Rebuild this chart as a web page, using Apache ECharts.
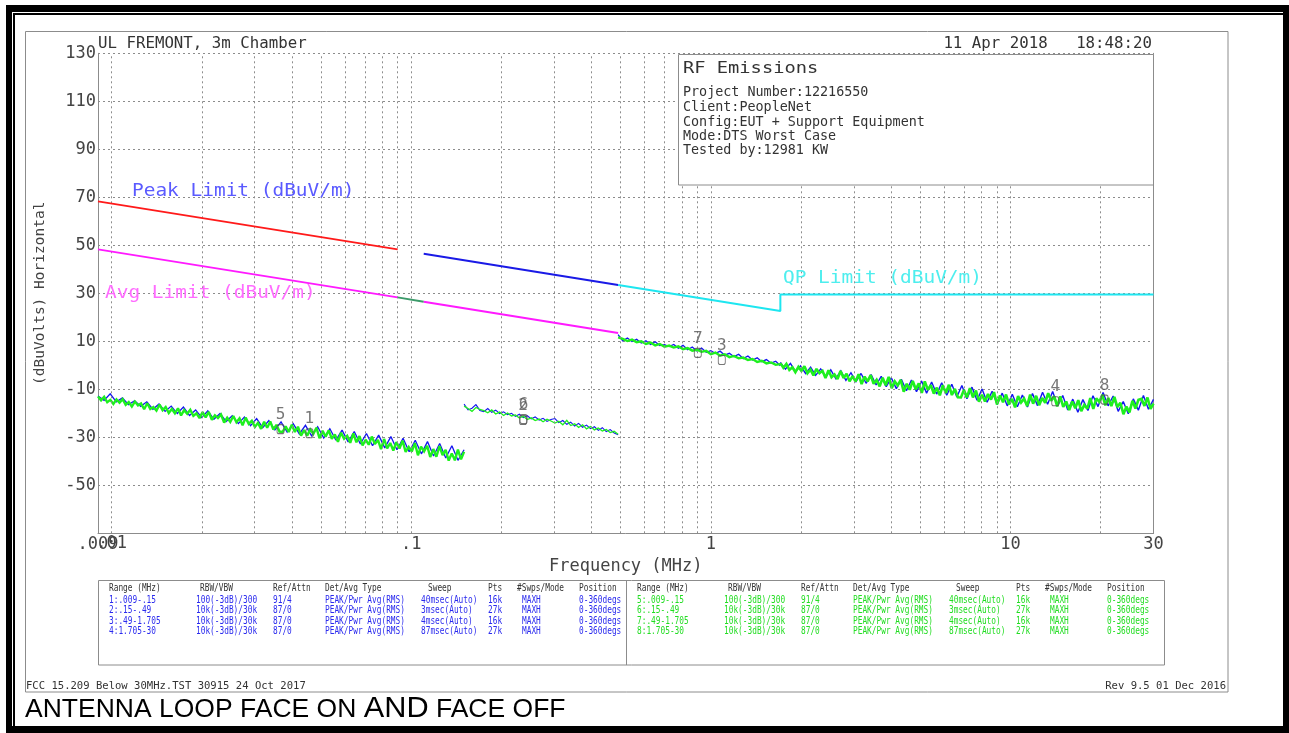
<!DOCTYPE html>
<html><head><meta charset="utf-8">
<script src="https://cdn.jsdelivr.net/npm/echarts@6/dist/echarts.min.js"></script>
<style>html,body{margin:0;padding:0;background:#fff}#c{width:1289px;height:733px}</style>
</head><body><div id="c"></div>
<script>
// ---------------- DATA ----------------
const xTickValues = [0.009, 0.01, 0.1, 1, 10, 30];
const xTickLabels = ['.009', '.01', '.1', '1', '10', '30'];
const gridFreqs = [0.01,0.02,0.03,0.04,0.05,0.06,0.07,0.08,0.09,0.1,0.2,0.3,0.4,0.5,0.6,0.7,0.8,0.9,1,2,3,4,5,6,7,8,9,10,20];

// sweep ranges (MHz): start, stop
const sweep1 = [0.009, 0.15];
const sweep2 = [0.15, 0.49];
const sweep3 = [0.49, 1.705];
const sweep4 = [1.705, 30];

// blue trace (dBuV/m)
const blue1 = [-12.8,-14.6,-11.9,-15.2,-13.6,-16.4,-14.8,-17.1,-15.2,-18.3,-16.1,-19.2,-17.0,-20.1,-17.4,-20.9,-18.6,-21.8,-19.0,-22.5,-20.1,-23.4,-21.0,-24.3,-21.6,-25.2,-22.2,-26.0,-23.0,-26.9,-23.6,-27.8,-24.3,-28.6,-25.0,-29.4,-25.6,-30.3,-26.4,-31.2,-27.0,-31.9,-27.6,-32.8,-28.4,-33.5,-29.1,-34.4,-29.7,-35.2,-30.4,-36.0,-31.2,-36.9,-31.8,-37.8,-32.6,-38.6,-33.5,-39.6,-35.2];
const blue2 = [-16.2,-18.6,-17.9,-16.4,-18.8,-19.3,-18.0,-19.6,-18.7,-20.1,-19.4,-20.6,-20.0,-21.3,-20.4,-21.8,-21.0,-22.3,-21.5,-22.8,-22.1,-23.4,-22.6,-22.2,-23.9,-23.0,-24.6,-23.7,-25.3,-24.2,-25.8,-24.9,-26.4,-25.6,-27.1,-26.0,-27.6,-26.8,-28.2,-28.9];
const blue3 = [12.8,10.2,11.4,9.9,10.8,9.3,10.2,8.7,9.8,8.2,8.6,7.8,8.7,7.1,8.3,6.5,7.6,6.0,7.2,5.4,6.1,4.9,5.9,4.2,5.0,3.6,4.6,2.8,3.9,2.2,3.1,1.5,2.4,0.9,1.7,-0.2];
const blue4 = [1.2,-1.6,0.8,-2.6,-0.2,-3.4,-0.8,-4.2,-1.5,-4.9,-1.9,-5.6,-2.3,-6.3,-3.1,-6.8,-3.4,-7.5,-3.9,-8.2,-4.6,-8.9,-5.2,-9.7,-5.8,-10.6,-6.1,-11.0,-6.5,-11.6,-7.0,-12.0,-7.3,-12.5,-7.9,-13.2,-8.4,-13.9,-9.1,-14.6,-9.9,-15.4,-10.8,-16.3,-11.6,-16.9,-12.1,-17.3,-12.4,-17.4,-11.8,-16.8,-11.2,-16.2,-10.9,-16.9,-12.6,-18.6,-14.1,-19.6,-14.3,-18.8,-12.7,-17.2,-11.3,-16.9,-12.8,-19.2,-15.1,-20.2,-14.0,-18.7,-12.6,-18.3,-14.2];

// green trace (dBuV/m)
const green1 = [-13.0,-14.6,-13.1,-15.4,-14.4,-16.1,-14.2,-15.6,-14.1,-16.5,-15.3,-17.2,-15.1,-16.7,-15.9,-18.3,-15.8,-18.2,-17.4,-18.9,-16.4,-18.7,-17.4,-19.9,-18.2,-20.0,-17.9,-20.9,-18.7,-20.2,
  -18.5,-21.1,-20.0,-22.0,-19.5,-21.7,-19.4,-22.7,-20.8,-22.0,-20.5,-23.9,-21.8,-23.6,-21.1,-23.7,-22.1,-25.0,-21.8,-24.4,-23.1,-25.7,-24.0,-26.5,-23.5,-26.0,-23.4,-26.8,-24.8,-27.6,
  -27.8,-25.4,-27.8,-24.8,-27.8,-25.6,-29.3,-27.0,-29.3,-26.7,-28.6,-26.0,-30.4,-27.3,-29.8,-27.1,-30.6,-28.8,-31.9,-28.1,-30.6,-29.4,-32.3,-28.4,-32.1,-29.5,-33.4,-31.0,-33.1,-29.7,
  -32.8,-31.1,-34.9,-30.7,-34.6,-32.4,-35.5,-32.0,-34.7,-31.4,-36.1,-34.0,-36.0,-32.4,-37.5,-33.9,-35.9,-33.5,-38.2,-34.9,-38.1,-33.7,-37.4,-35.2,-39.7,-36.7,-39.6,-35.1,-39.2,-36.0];
const green2 = [-17.0,-18.0,-19.2,-17.6,-18.4,-18.9,-19.8,-18.6,-20.3,-19.5,-20.9,-19.9,-21.1,-20.7,-22.0,-21.2,-22.6,-21.9,-23.0,-22.4,-23.5,-22.5,-23.2,-24.1,-23.3,-24.8,-22.9,-25.1,-24.4,-25.9,-24.8,-26.5,-25.5,-26.9,-26.1,-27.4,-26.7,-28.0,-27.5,-28.7];
const green3 = [11.6,11.0,10.1,10.7,9.6,10.0,8.9,9.5,8.3,8.9,7.7,8.2,7.4,7.9,6.7,7.2,6.1,6.5,5.6,6.0,4.6,5.3,4.0,4.6,3.4,3.9,2.9,3.2,2.2,2.6,1.4,1.9,0.8,1.2,0.2,0.5];
const green4 = [0.9,-1.0,0.6,-1.9,-0.8,-2.9,-0.7,-2.4,-0.4,-3.3,-1.8,-4.2,-1.5,-3.3,-2.3,-5.3,-2.1,-5.0,-3.8,-5.7,-2.4,-5.3,-3.5,-6.7,-4.5,-6.8,-3.7,-7.8,-4.7,-6.7,
  -4.1,-7.7,-6.0,-8.8,-5.2,-8.3,-4.8,-9.5,-6.7,-8.4,-6.1,-11.0,-7.7,-10.2,-6.5,-10.0,-7.5,-11.5,-6.7,-10.2,-8.3,-11.8,-9.3,-12.5,-8.3,-11.6,-8.1,-12.4,-9.8,-13.3,
  -13.4,-10.3,-13.4,-9.5,-13.4,-10.5,-15.2,-12.3,-15.1,-12.0,-14.3,-11.2,-16.3,-12.6,-15.4,-12.2,-16.3,-14.0,-17.5,-12.8,-15.5,-13.9,-17.0,-12.2,-16.0,-12.7,-16.6,-13.6,-15.6,-11.6,
  -14.8,-12.9,-17.1,-12.9,-17.3,-15.1,-18.7,-15.1,-17.9,-14.5,-19.1,-16.5,-18.1,-13.7,-18.2,-13.8,-15.2,-12.3,-16.7,-13.6,-17.0,-13.2,-17.4,-15.6,-20.4,-17.2,-19.6,-14.8,-18.0,-14.4,
  -14.0,-16.9,-13.4,-18.2,-16.0];

// limit lines
const peakAFreq = [0.009, 0.09];  const peakALevel = [68.3, 48.3];
const peakBFreq = [0.11, 0.49];   const peakBLevel = [46.5, 33.5];
const qpFreq = [0.49, 1.705, 1.705, 30]; const qpLevel = [33.5, 22.6, 29.5, 29.5];
const avgAFreq = [0.009, 0.09];   const avgALevel = [48.3, 28.3];
const avgGapFreq = [0.09, 0.11];  const avgGapLevel = [28.3, 26.5];
const avgBFreq = [0.11, 0.49];    const avgBLevel = [26.5, 13.5];

// markers
const markerNames = ['1','2','3','4','5','6','7','8'];
const markerFreq = [0.0457, 0.236, 1.087, 14.1, 0.0366, 0.237, 0.904, 20.6];
const markerLevel = [-28.3, -22.8, 2.2, -15.0, -26.6, -22.4, 5.2, -14.3];

// texts
const titleLeft = 'UL FREMONT, 3m Chamber';
const titleRight = '11 Apr 2018   18:48:20';
const infoTitle = 'RF Emissions';
const infoLines = ['Project Number:12216550','Client:PeopleNet','Config:EUT + Support Equipment','Mode:DTS Worst Case','Tested by:12981 KW'];
const limitLabels = ['Peak Limit (dBuV/m)', 'Avg Limit (dBuV/m)', 'QP Limit (dBuV/m)'];
const tableHeaders = ['Range (MHz)','RBW/VBW','Ref/Attn','Det/Avg Type','Sweep','Pts','#Swps/Mode','Position'];
const tableRowsA = [
  ['1:.009-.15','100(-3dB)/300','91/4','PEAK/Pwr Avg(RMS)','40msec(Auto)','16k','MAXH','0-360degs'],
  ['2:.15-.49','10k(-3dB)/30k','87/0','PEAK/Pwr Avg(RMS)','3msec(Auto)','27k','MAXH','0-360degs'],
  ['3:.49-1.705','10k(-3dB)/30k','87/0','PEAK/Pwr Avg(RMS)','4msec(Auto)','16k','MAXH','0-360degs'],
  ['4:1.705-30','10k(-3dB)/30k','87/0','PEAK/Pwr Avg(RMS)','87msec(Auto)','27k','MAXH','0-360degs']];
const tableRowsB = [
  ['5:.009-.15','100(-3dB)/300','91/4','PEAK/Pwr Avg(RMS)','40msec(Auto)','16k','MAXH','0-360degs'],
  ['6:.15-.49','10k(-3dB)/30k','87/0','PEAK/Pwr Avg(RMS)','3msec(Auto)','27k','MAXH','0-360degs'],
  ['7:.49-1.705','10k(-3dB)/30k','87/0','PEAK/Pwr Avg(RMS)','4msec(Auto)','16k','MAXH','0-360degs'],
  ['8:1.705-30','10k(-3dB)/30k','87/0','PEAK/Pwr Avg(RMS)','87msec(Auto)','27k','MAXH','0-360degs']];
const footerLeft = 'FCC 15.209 Below 30MHz.TST 30915 24 Oct 2017';
const footerRight = 'Rev 9.5 01 Dec 2016';
const captionParts = ['ANTENNA LOOP FACE ON ', 'AND', ' FACE OFF'];

// ---------------- STYLE ----------------
const MONO = "'DejaVu Sans Mono', monospace";
const SANS = "'Liberation Sans', Arial, sans-serif";
const GRID = '#8c8c8c';
const BLUE = '#1414f0', GREEN = '#1ef01e';

function sweepData(range, vals) {
  const n = vals.length;
  return vals.map((v, i) => [range[0] * Math.pow(range[1] / range[0], i / (n - 1)), v]);
}
function pairs(f, v) { return f.map((x, i) => [x, v[i]]); }
function trace(range, vals, color, width, z) {
  return { type: 'line', data: sweepData(range, vals), symbol: 'none', z: z, silent: true,
    lineStyle: { color: color, width: width, join: 'miter', miterLimit: 2 }, animation: false };
}
function limit(f, v, color) {
  return { type: 'line', data: pairs(f, v), symbol: 'none', z: 6, silent: true,
    lineStyle: { color: color, width: 2 }, animation: false };
}
function txt(x, y, text, o) {
  o = o || {};
  return { type: 'text', x: x, y: y, z: o.z || 20, scaleX: o.sx || 1, silent: true,
    style: { text: text, font: (o.size || 13) + 'px ' + (o.family || MONO), fill: o.color || '#333',
      textAlign: o.align || 'left', textVerticalAlign: 'middle' } };
}

const elements = [];
// outer black frame
elements.push({ type: 'rect', shape: { x: 6, y: 5, width: 1283, height: 7 }, style: { fill: '#000' } });
elements.push({ type: 'rect', shape: { x: 6, y: 5, width: 6, height: 728 }, style: { fill: '#000' } });
elements.push({ type: 'rect', shape: { x: 1283, y: 5, width: 6, height: 728 }, style: { fill: '#000' } });
elements.push({ type: 'rect', shape: { x: 6, y: 726, width: 1283, height: 7 }, style: { fill: '#000' } });
elements.push({ type: 'rect', shape: { x: 13, y: 13, width: 1270, height: 2 }, style: { fill: '#000' } });
elements.push({ type: 'rect', shape: { x: 13, y: 13, width: 2, height: 713 }, style: { fill: '#000' } });
// inner gray frame
elements.push({ type: 'rect', shape: { x: 25.5, y: 31.5, width: 1202.5, height: 660.5 }, style: { fill: 'none', stroke: GRID, lineWidth: 1 } });
// titles
elements.push(txt(98, 44, titleLeft, { size: 15, sx: 1.05, color: '#333' }));
elements.push(txt(1152, 44, titleRight, { size: 15, sx: 1.05, color: '#333', align: 'right' }));
// info box
elements.push({ type: 'rect', z: 15, shape: { x: 678.5, y: 54.5, width: 475, height: 130.5 }, style: { fill: '#fff', stroke: GRID, lineWidth: 1 } });
elements.push(txt(683, 69, infoTitle, { size: 16, sx: 1.17, color: '#333' }));
const infoY = [92.7, 107.3, 122.3, 136.7, 151];
infoLines.forEach((s, i) => elements.push(txt(683, infoY[i], s, { size: 13.4, color: '#333' })));
// limit labels
elements.push(txt(132, 191, limitLabels[0], { size: 18, sx: 1.08, color: '#5a5aff' }));
elements.push(txt(105, 293, limitLabels[1], { size: 18, sx: 1.08, color: '#ff6cff' }));
elements.push(txt(783, 278, limitLabels[2], { size: 18, sx: 1.08, color: '#4eeeee' }));
// table
elements.push({ type: 'rect', shape: { x: 98.5, y: 580.5, width: 1066, height: 84.5 }, style: { fill: 'none', stroke: GRID, lineWidth: 1 } });
elements.push({ type: 'line', shape: { x1: 626.5, y1: 580.5, x2: 626.5, y2: 665 }, style: { stroke: GRID, lineWidth: 1 } });
const headX = [109, 200, 273, 325, 428, 488, 517, 579];
const cellX = [109, 196, 273, 325, 421, 488, 522, 579];
const headY = 588.5;
const rowY = [600, 610.5, 621, 631.5];
const tableOffset = 528;
[0, tableOffset].forEach(off => {
  tableHeaders.forEach((h, j) => elements.push(txt(headX[j] + off, headY, h, { size: 11, sx: 0.71, color: '#333' })));
});
tableRowsA.forEach((r, i) => r.forEach((c, j) => elements.push(txt(cellX[j], rowY[i], c, { size: 11, sx: 0.71, color: '#2a2aee' }))));
tableRowsB.forEach((r, i) => r.forEach((c, j) => elements.push(txt(cellX[j] + tableOffset, rowY[i], c, { size: 11, sx: 0.71, color: '#22dd22' }))));
// footer
elements.push(txt(26, 686, footerLeft, { size: 11, sx: 0.96, color: '#333' }));
elements.push(txt(1226, 686, footerRight, { size: 11, sx: 0.96, color: '#333', align: 'right' }));
// caption
elements.push({ type: 'text', x: 25, y: 723, scaleX: 1.06, z: 20, silent: true,
  style: { text: '{a|' + captionParts[0] + '}{b|' + captionParts[1] + '}{a|' + captionParts[2] + '}',
    textVerticalAlign: 'bottom', textAlign: 'left',
    rich: { a: { fontFamily: SANS, fontSize: 25, fill: '#000', verticalAlign: 'bottom' },
            b: { fontFamily: SANS, fontSize: 29, fill: '#000', verticalAlign: 'bottom' } } } });

function xLabel(v) {
  for (let i = 0; i < xTickValues.length; i++) {
    if (Math.abs(v - xTickValues[i]) / xTickValues[i] < 0.01) return xTickLabels[i];
  }
  return '';
}
const labelFont = { color: '#444', fontFamily: MONO, fontSize: 17 };

const option = {
  animation: false,
  backgroundColor: '#fff',
  grid: { left: 98, right: 135.5, top: 53.3, bottom: 199.7, containLabel: false },
  xAxis: {
    type: 'log', logBase: 10, min: 0.009, max: 30,
    axisLine: { onZero: false, lineStyle: { color: GRID, width: 1 } },
    axisTick: { show: false }, splitLine: { show: false },
    axisLabel: Object.assign({ showMinLabel: true, showMaxLabel: true, hideOverlap: false, margin: 3, formatter: xLabel }, labelFont),
    name: 'Frequency (MHz)', nameLocation: 'middle', nameGap: 22,
    nameTextStyle: labelFont
  },
  yAxis: [{
    type: 'value', min: -70, max: 130, interval: 20,
    axisLine: { show: true, lineStyle: { color: GRID, width: 1 } },
    axisTick: { show: false },
    splitLine: { lineStyle: { type: [2, 3], color: GRID, width: 1 } },
    axisLabel: Object.assign({ margin: 2, formatter: v => v === -70 ? '' : String(v) }, labelFont),
    name: '(dBuVolts) Horizontal', nameLocation: 'middle', nameGap: 50, nameRotate: 90,
    nameTextStyle: { color: '#444', fontFamily: MONO, fontSize: 14.5 }
  }, {
    type: 'value', position: 'right', min: -70, max: 130, interval: 20,
    axisLine: { show: true, onZero: false, lineStyle: { color: GRID, width: 1 } },
    axisTick: { show: false }, axisLabel: { show: false }, splitLine: { show: false }
  }],
  graphic: { elements: elements },
  series: [
    { type: 'line', data: [], silent: true, z: 1,
      markLine: { silent: true, symbol: ['none', 'none'], animation: false, label: { show: false },
        lineStyle: { type: [2, 3], color: GRID, width: 1 },
        data: gridFreqs.map(f => {
          const item = { xAxis: f };
          if (f === xTickValues[1]) {
            item.label = Object.assign({ show: true, position: 'start', distance: 2, formatter: xTickLabels[1] }, labelFont);
          }
          return item;
        }) } },
    trace(sweep1, blue1, BLUE, 1.3, 3), trace(sweep2, blue2, BLUE, 1.1, 3),
    trace(sweep3, blue3, BLUE, 1.3, 3), trace(sweep4, blue4, BLUE, 1.4, 3),
    trace(sweep1, green1, GREEN, 2.4, 4), trace(sweep2, green2, GREEN, 1.3, 4),
    trace(sweep3, green3, GREEN, 2.4, 4), trace(sweep4, green4, GREEN, 2.6, 4),
    limit(peakAFreq, peakALevel, '#ff1a1a'),
    limit(peakBFreq, peakBLevel, '#1a1ae6'),
    limit(qpFreq, qpLevel, '#1ee6f0'),
    limit(avgAFreq, avgALevel, '#ff1aff'),
    limit(avgGapFreq, avgGapLevel, '#3c9a6a'),
    limit(avgBFreq, avgBLevel, '#ff1aff'),
    { type: 'scatter', z: 8, silent: true,
      data: markerNames.map((n, i) => [markerFreq[i], markerLevel[i], n]),
      symbol: 'roundRect', symbolSize: [7, 9],
      itemStyle: { color: 'rgba(0,0,0,0)', borderColor: '#555', borderWidth: 1 },
      label: { show: true, position: 'top', distance: 1, formatter: p => p.data[2], color: '#555', fontFamily: MONO, fontSize: 16 } }
  ]
};
const chart = echarts.init(document.getElementById('c'), null, { renderer: 'canvas' });
chart.setOption(option);
</script></body></html>
